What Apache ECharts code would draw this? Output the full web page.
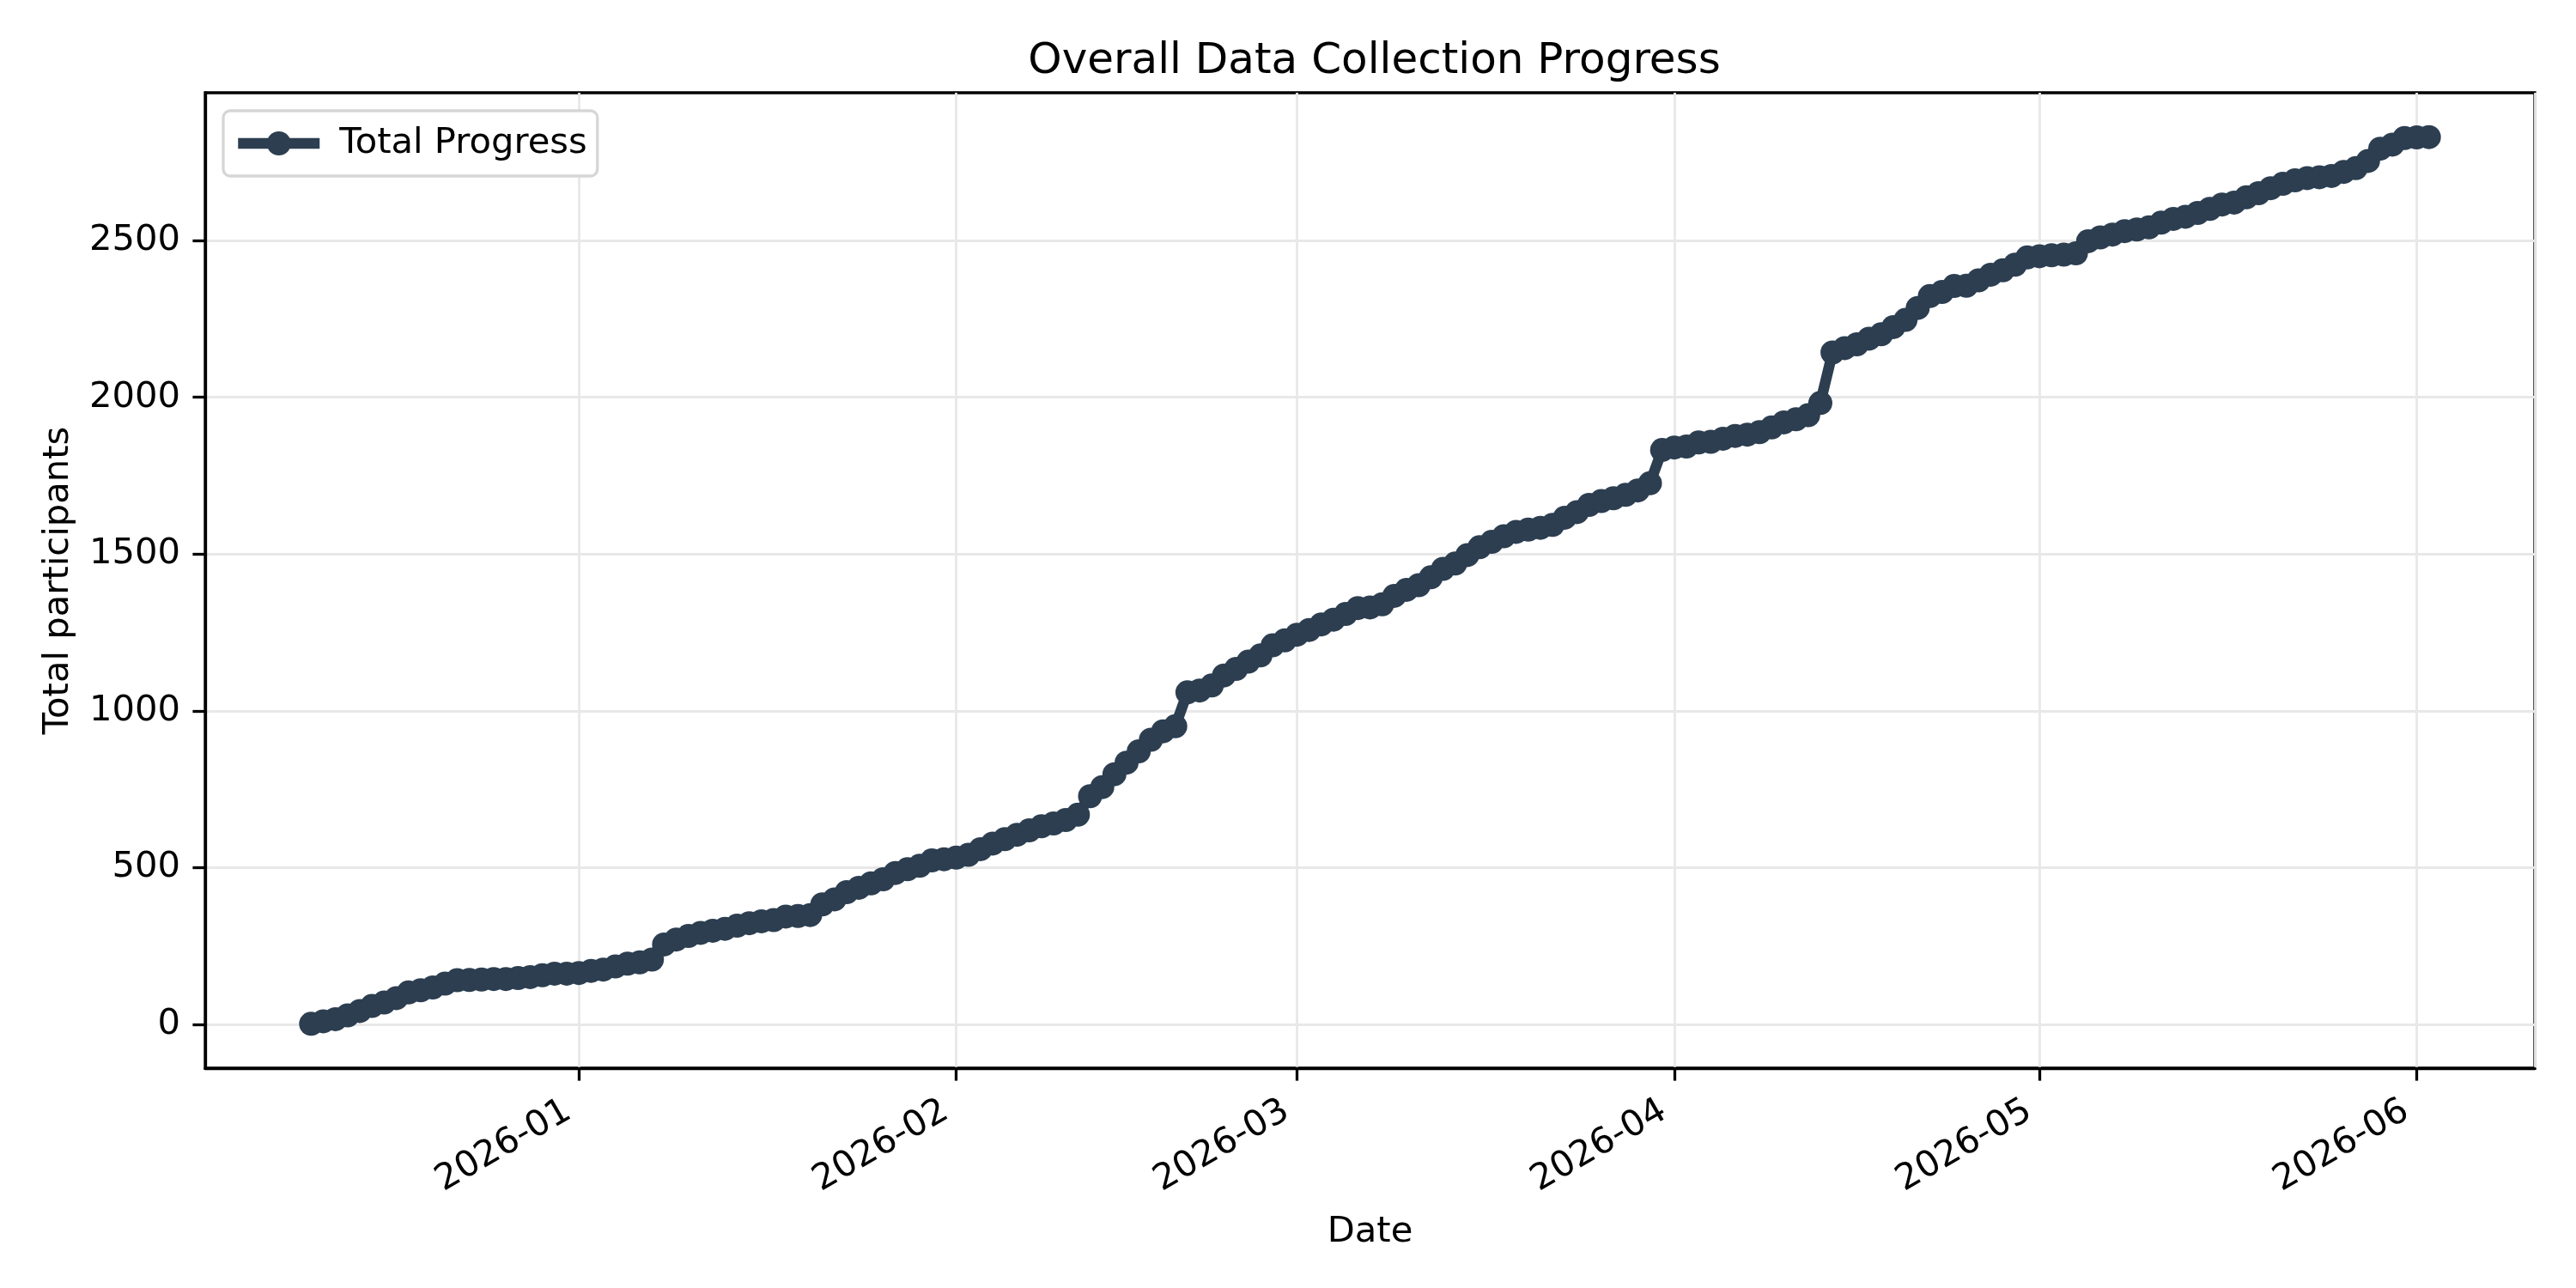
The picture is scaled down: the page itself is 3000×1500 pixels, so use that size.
<!DOCTYPE html>
<html>
<head>
<meta charset="utf-8">
<script src="https://cdn.jsdelivr.net/npm/echarts@6/dist/echarts.min.js"></script>
<style>
html,body{margin:0;padding:0;background:#ffffff;}
#chart{width:3000px;height:1500px;}
</style>
</head>
<body>
<div id="chart"></div>
<script>
// ---------------- data ----------------
const startDate = '2025-12-10';   // first daily observation
const chartTitle = 'Overall Data Collection Progress';
const seriesName = 'Total Progress';
const xAxisName = 'Date';
const yAxisName = 'Total participants';
const monthTickLabels = ['2026-01', '2026-02', '2026-03', '2026-04', '2026-05', '2026-06'];
const yTickValues = [0, 500, 1000, 1500, 2000, 2500];

// cumulative participants, one value per day
const totalsDec = [2, 10, 17, 29, 43, 59, 70, 84, 102, 109, 118, 130, 141, 142, 143, 145, 145, 148, 151, 157, 162, 162];
const totalsJan = [164, 171, 175, 185, 194, 198, 207, 255, 271, 282, 292, 299, 305, 315, 323, 329, 333, 344, 346, 349,
                   383, 399, 422, 436, 450, 463, 483, 495, 506, 523, 527];
const totalsFeb = [532, 541, 559, 577, 591, 605, 619, 632, 641, 652, 669, 728, 757, 798, 835, 871, 908, 935, 951, 1059,
                   1065, 1081, 1113, 1134, 1157, 1177, 1209, 1225];
const totalsMar = [1243, 1258, 1276, 1291, 1309, 1328, 1330, 1340, 1367, 1386, 1401, 1426, 1453, 1470, 1497, 1522, 1539,
                   1557, 1571, 1578, 1584, 1593, 1616, 1634, 1657, 1669, 1678, 1689, 1703, 1726, 1832];
const totalsApr = [1840, 1843, 1856, 1858, 1868, 1877, 1881, 1889, 1904, 1920, 1930, 1943, 1982, 2143, 2157, 2169, 2187,
                   2201, 2224, 2247, 2285, 2323, 2336, 2355, 2356, 2373, 2391, 2405, 2423, 2446];
const totalsMay = [2450, 2453, 2455, 2459, 2498, 2510, 2519, 2530, 2535, 2542, 2557, 2569, 2576, 2588, 2601, 2615, 2621,
                   2638, 2651, 2667, 2681, 2692, 2699, 2702, 2706, 2719, 2731, 2754, 2793, 2806, 2827];
const totalsJun = [2829, 2830];

// ---------------- build ----------------
const totals = [].concat(totalsDec, totalsJan, totalsFeb, totalsMar, totalsApr, totalsMay, totalsJun);
const DAY = 86400000;
const t0 = Date.parse(startDate + 'T00:00:00Z');
const dates = totals.map((_, i) => t0 + i * DAY);
const seriesData = dates.map((d, i) => [d, totals[i]]);

const monthTickValues = monthTickLabels.map(s => {
  const p = s.split('-');
  return Date.UTC(+p[0], +p[1] - 1, 1);
});

// matplotlib-style 5% margins
const xSpan = dates[dates.length - 1] - dates[0];
const xMin = dates[0] - 0.05 * xSpan;
const xMax = dates[dates.length - 1] + 0.05 * xSpan;
const yLo = Math.min(...totals), yHi = Math.max(...totals);
const ySpan = yHi - yLo;
const yMin = yLo - 0.05 * ySpan;
const yMax = yHi + 0.05 * ySpan;

const FONT = 'DejaVu Sans';
const COLOR = '#2c3e50';
const TICK_FS = 41.7;
const GRID_COLOR = '#e8e8e8';

function fmtMonth(v) {
  const d = new Date(v);
  const m = d.getUTCMonth() + 1;
  return d.getUTCFullYear() + '-' + (m < 10 ? '0' + m : m);
}

const chart = echarts.init(document.getElementById('chart'), null, {renderer: 'canvas', width: 3000, height: 1500});

chart.setOption({
  animation: false,
  backgroundColor: '#ffffff',
  title: {
    text: chartTitle,
    left: 1595.5,
    top: 42,
    textAlign: 'center',
    textStyle: {fontFamily: FONT, fontSize: 50, fontWeight: 'normal', color: '#000'}
  },
  legend: {
    left: 260,
    top: 129,
    orient: 'vertical',
    padding: [17, 12, 17, 11],
    itemWidth: 95,
    itemHeight: 35,
    backgroundColor: '#ffffff',
    borderColor: '#d6d6d6',
    borderWidth: 3.3,
    borderRadius: 8,
    lineStyle: {width: 12.5, color: COLOR},
    itemStyle: {color: COLOR},
    textStyle: {fontFamily: FONT, fontSize: TICK_FS, color: '#000', padding: [0, 0, 0, 18]},
    data: [seriesName]
  },
  grid: {
    left: 239,
    right: 48,
    top: 108,
    bottom: 256,
    show: true,
    borderColor: '#000',
    borderWidth: 3.3,
    backgroundColor: 'transparent'
  },
  xAxis: [{
    type: 'value',
    min: xMin,
    max: xMax,
    name: xAxisName,
    nameLocation: 'middle',
    nameGap: 170,
    nameTextStyle: {fontFamily: FONT, fontSize: TICK_FS, color: '#000'},
    axisLine: {show: true, onZero: false, lineStyle: {color: '#000', width: 3.3}},
    axisTick: {show: true, length: 14.6, customValues: monthTickValues, lineStyle: {color: '#000', width: 3.3}},
    axisLabel: {
      customValues: monthTickValues,
      formatter: fmtMonth,
      rotate: 30,
      margin: 40,
      padding: [0, 14, 0, 0],
      fontFamily: FONT,
      fontSize: TICK_FS,
      color: '#000',
      hideOverlap: false
    },
    splitLine: {show: false}
  }, {
    type: 'time',
    min: xMin,
    max: xMax,
    position: 'bottom',
    maxInterval: 31 * DAY,
    minInterval: 28 * DAY,
    axisLine: {show: false},
    axisTick: {show: false},
    axisLabel: {show: false},
    splitLine: {show: true, lineStyle: {color: GRID_COLOR, width: 2.8}}
  }],
  yAxis: {
    type: 'value',
    min: yMin,
    max: yMax,
    name: yAxisName,
    nameLocation: 'middle',
    nameGap: 150,
    nameRotate: 90,
    nameTextStyle: {fontFamily: FONT, fontSize: TICK_FS, color: '#000'},
    axisLine: {show: true, onZero: false, lineStyle: {color: '#000', width: 3.3}},
    axisTick: {show: true, length: 14.6, customValues: yTickValues, lineStyle: {color: '#000', width: 3.3}},
    axisLabel: {
      customValues: yTickValues,
      formatter: v => String(v),
      margin: 29,
      fontFamily: FONT,
      fontSize: TICK_FS,
      color: '#000'
    },
    splitLine: {show: true, lineStyle: {color: GRID_COLOR, width: 2.8}}
  },
  series: [{
    name: seriesName,
    type: 'line',
    xAxisIndex: 0,
    data: seriesData,
    showSymbol: true,
    showAllSymbol: true,
    symbol: 'circle',
    symbolSize: 28,
    itemStyle: {color: COLOR, borderColor: COLOR, borderWidth: 0},
    lineStyle: {color: COLOR, width: 12.5},
    emphasis: {disabled: true}
  }]
});
</script>
</body>
</html>
